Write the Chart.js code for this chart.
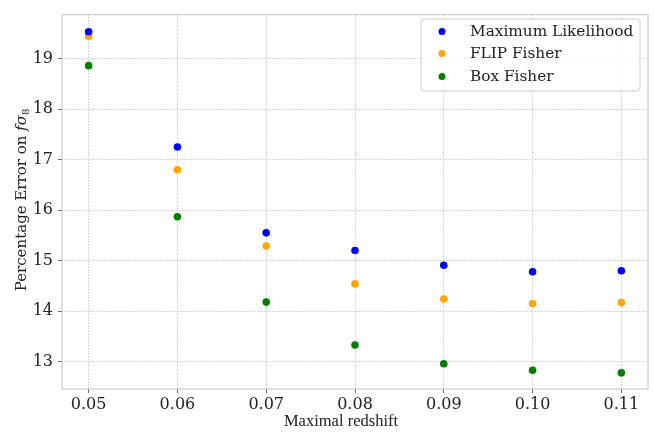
<!DOCTYPE html>
<html>
<head>
<meta charset="utf-8">
<script src="https://cdn.jsdelivr.net/npm/chart.js@4.4.1/dist/chart.umd.min.js"></script>
<style>
  html, body { margin: 0; padding: 0; background: #fff; }
  #wrap { width: 654px; height: 434px; }
</style>
</head>
<body>
<div id="wrap"><canvas id="myChart" width="654" height="434"></canvas></div>
<script>
var redshift = [0.05, 0.06, 0.07, 0.08, 0.09, 0.10, 0.11];
var maxLikelihood = [19.53, 17.25, 15.55, 15.20, 14.91, 14.78, 14.80];
var flipFisher = [19.44, 16.80, 15.29, 14.54, 14.24, 14.15, 14.17];
var boxFisher = [18.86, 15.87, 14.18, 13.33, 12.96, 12.83, 12.78];
var xTicks = [0.05, 0.06, 0.07, 0.08, 0.09, 0.10, 0.11];
var yTicks = [13, 14, 15, 16, 17, 18, 19];

function pts(ys) {
    return redshift.map(function(x, i) { return { x: x, y: ys[i] }; });
}

var serif = "'DejaVu Serif', serif";
var gridColor = '#b8b8b8';
var frameColor = '#cccccc';

// frame, axis titles and legend drawn inside the plot like matplotlib
var extras = {
    id: 'extras',
    afterDraw: function(chart) {
        var c = chart.ctx, a = chart.chartArea;
        c.save();
        c.strokeStyle = frameColor;
        c.lineWidth = 1.2;
        c.strokeRect(a.left, a.top, a.right - a.left, a.bottom - a.top);

        // x title
        c.fillStyle = '#222';
        c.font = "16.5px 'Liberation Serif', serif";
        c.textAlign = 'center';
        c.textBaseline = 'middle';
        c.fillText('Maximal redshift', 341, 422);

        // y title with f sigma_8
        c.translate(22, 200);
        c.rotate(-Math.PI / 2);
        var p1 = 'Percentage Error on ';
        c.font = '15px ' + serif;
        var w1 = c.measureText(p1).width;
        c.font = 'italic 15px ' + serif;
        var w2 = c.measureText('fσ').width;
        c.font = '10px ' + serif;
        var w3 = c.measureText('8').width;
        var x0 = -(w1 + w2 + w3) / 2;
        c.textAlign = 'left';
        c.font = '15px ' + serif;
        c.fillText(p1, x0, 0);
        c.font = 'italic 15px ' + serif;
        c.fillText('fσ', x0 + w1, 0);
        c.font = '10px ' + serif;
        c.fillText('8', x0 + w1 + w2, 4);
        c.restore();

        // legend
        c.save();
        var bx = 421, by = 19, bw = 219, bh = 72, r = 3;
        c.beginPath();
        c.moveTo(bx + r, by);
        c.arcTo(bx + bw, by, bx + bw, by + bh, r);
        c.arcTo(bx + bw, by + bh, bx, by + bh, r);
        c.arcTo(bx, by + bh, bx, by, r);
        c.arcTo(bx, by, bx + bw, by, r);
        c.closePath();
        c.fillStyle = 'rgba(255,255,255,0.8)';
        c.fill();
        c.strokeStyle = frameColor;
        c.lineWidth = 1;
        c.stroke();
        var rowY = [31.5, 53.5, 76.5];
        c.font = '15.3px ' + serif;
        c.textAlign = 'left';
        c.textBaseline = 'middle';
        chart.data.datasets.forEach(function(ds, i) {
            c.beginPath();
            c.arc(442, rowY[i], 3.5, 0, Math.PI * 2);
            c.fillStyle = ds.backgroundColor;
            c.fill();
            c.fillStyle = '#222';
            c.fillText(ds.label, 470, rowY[i] + 1);
        });
        c.restore();
    }
};

var ctx = document.getElementById('myChart').getContext('2d');
var myChart = new Chart(ctx, {
    type: 'scatter',
    data: {
        datasets: [{
            label: 'Maximum Likelihood',
            data: pts(maxLikelihood),
            backgroundColor: '#0000ff',
            borderColor: '#0000ff'
        }, {
            label: 'FLIP Fisher',
            data: pts(flipFisher),
            backgroundColor: '#ffa500',
            borderColor: '#ffa500'
        }, {
            label: 'Box Fisher',
            data: pts(boxFisher),
            backgroundColor: '#008000',
            borderColor: '#008000'
        }]
    },
    options: {
        responsive: false,
        animation: false,
        layout: { padding: { top: 10, right: 6, left: 0, bottom: 0 } },
        elements: { point: { radius: 3.8, borderWidth: 0, hoverRadius: 3.8 } },
        plugins: { legend: { display: false }, tooltip: { enabled: false } },
        scales: {
            x: {
                type: 'linear',
                min: 0.047,
                max: 0.113,
                afterBuildTicks: function(s) { s.ticks = xTicks.map(function(v) { return { value: v }; }); },
                afterFit: function(s) { s.height = 45; },
                border: { display: false, dash: [1.2, 1.6] },
                grid: { color: gridColor, lineWidth: 0.9, tickLength: 4, tickColor: '#555', tickBorderDash: [] },
                ticks: {
                    color: '#222', padding: 2, maxRotation: 0, autoSkip: false,
                    font: { family: serif, size: 16 },
                    callback: function(v) { return v.toFixed(2); }
                }
            },
            y: {
                min: 12.46,
                max: 19.87,
                afterBuildTicks: function(s) { s.ticks = yTicks.map(function(v) { return { value: v }; }); },
                afterFit: function(s) { s.width = 62; },
                border: { display: false, dash: [1.2, 1.6] },
                grid: { color: gridColor, lineWidth: 0.9, tickLength: 4, tickColor: '#555', tickBorderDash: [] },
                ticks: {
                    color: '#222', padding: 5, autoSkip: false,
                    font: { family: serif, size: 16 },
                    callback: function(v) { return String(v); }
                }
            }
        }
    },
    plugins: [extras]
});
</script>
</body>
</html>
